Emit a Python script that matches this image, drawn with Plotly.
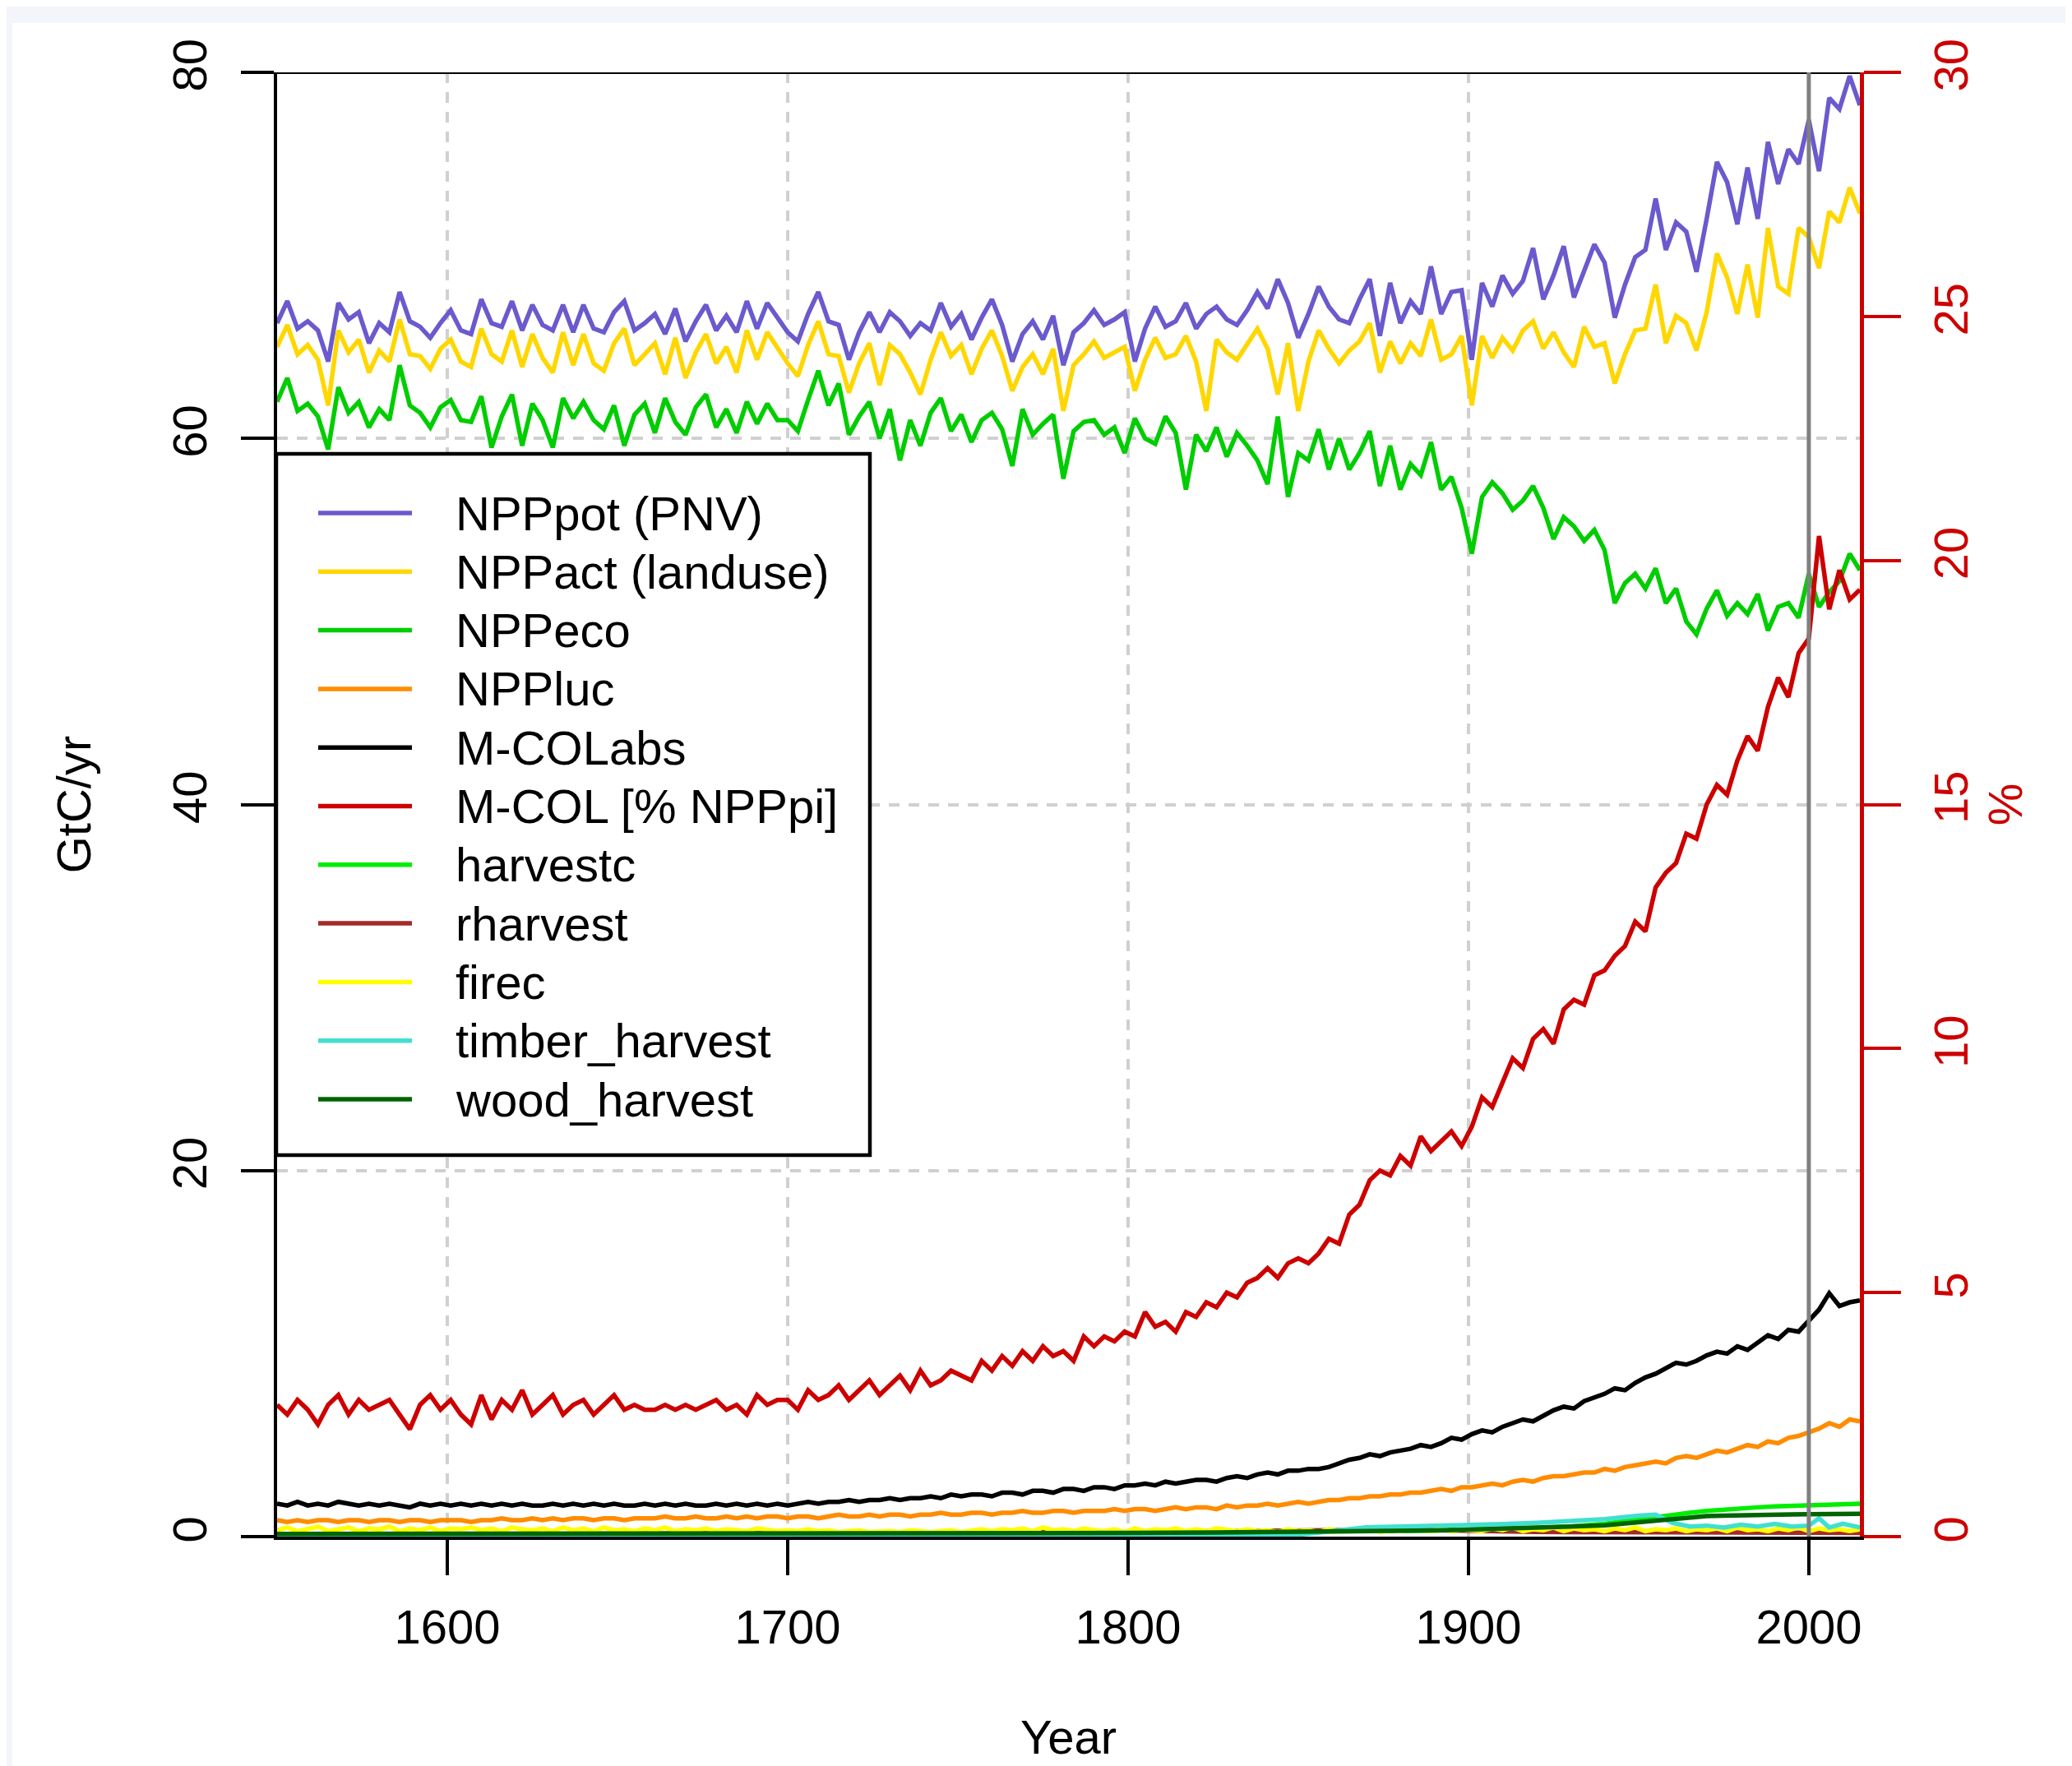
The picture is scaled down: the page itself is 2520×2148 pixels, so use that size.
import plotly.graph_objects as go

# ---------------- data ----------------
years = list(range(1550, 2016, 3))  # 1550, 1553, ... 2015

npp_pot = [
    66.3, 67.5, 66.0, 66.4, 65.9, 64.2, 67.4, 66.5, 66.9, 65.2,
    66.3, 65.8, 68.0, 66.4, 66.1, 65.5, 66.3, 67.0, 65.9, 65.7,
    67.6, 66.3, 66.1, 67.5, 65.9, 67.3, 66.2, 65.9, 67.3, 65.8,
    67.3, 66.0, 65.8, 66.9, 67.5, 65.9, 66.3, 66.8, 65.7, 67.1,
    65.3, 66.4, 67.3, 65.9, 66.7, 65.8, 67.5, 66.0, 67.4, 66.6,
    65.8, 65.3, 66.8, 68.0, 66.4, 66.2, 64.3, 65.8, 66.9, 65.8,
    66.9, 66.4, 65.6, 66.3, 65.9, 67.4, 66.1, 66.8, 65.4, 66.6,
    67.6, 66.2, 64.2, 65.7, 66.4, 65.4, 66.7, 64.0, 65.8, 66.3,
    67.0, 66.2, 66.5, 66.9, 64.2, 66.0, 67.2, 66.1, 66.4, 67.4,
    66.0, 66.8, 67.2, 66.5, 66.2, 67.0, 68.0, 67.1, 68.7, 67.4,
    65.5, 66.8, 68.3, 67.2, 66.5, 66.3, 67.6, 68.7, 65.6, 68.5,
    66.3, 67.5, 66.8, 69.4, 66.8, 68.0, 68.1, 64.3, 68.5, 67.2,
    68.9, 67.9, 68.6, 70.4, 67.6, 68.9, 70.5, 67.7, 69.2, 70.6,
    69.6, 66.6, 68.4, 69.9, 70.3, 73.1, 70.3, 71.8, 71.3, 69.1,
    72.0, 75.1, 74.0, 71.7, 74.8, 72.0, 76.2, 73.9, 75.8, 75.0,
    77.4, 74.6, 78.6, 78.0, 79.8, 78.2,
]
npp_act = [
    65.0, 66.2, 64.6, 65.1, 64.3, 61.8, 65.9, 64.7, 65.4, 63.6,
    64.8, 64.2, 66.5, 64.6, 64.5, 63.8, 64.9, 65.4, 64.2, 63.9,
    66.0, 64.6, 64.2, 65.9, 63.9, 65.7, 64.4, 63.6, 65.8, 64.0,
    65.7, 64.1, 63.7, 65.2, 66.0, 64.0, 64.6, 65.2, 63.5, 65.5,
    63.3, 64.7, 65.7, 64.1, 65.0, 63.6, 65.9, 64.3, 65.8, 64.9,
    64.1, 63.4, 65.1, 66.4, 64.6, 64.5, 62.5, 64.1, 65.2, 62.9,
    65.1, 64.6, 63.6, 62.4, 64.3, 65.8, 64.5, 65.1, 63.5, 64.9,
    65.9, 64.5, 62.6, 63.9, 64.6, 63.5, 64.9, 61.5, 64.0, 64.6,
    65.3, 64.4, 64.7, 65.0, 62.6, 64.3, 65.5, 64.4, 64.6, 65.6,
    64.2, 61.5, 65.4, 64.7, 64.3, 65.1, 66.0, 64.9, 62.4, 65.2,
    61.5, 64.2, 65.9, 64.9, 64.1, 64.8, 65.3, 66.3, 63.6, 65.3,
    64.1, 65.2, 64.5, 66.5, 64.3, 64.6, 65.6, 61.8, 65.6, 64.4,
    65.5, 64.8, 65.9, 66.4, 64.9, 65.8, 64.7, 63.9, 66.1, 65.0,
    65.2, 63.0, 64.6, 65.9, 66.0, 68.4, 65.2, 66.7, 66.3, 64.8,
    66.9, 70.1, 68.8, 66.8, 69.5, 66.6, 71.5, 68.3, 67.9, 71.5,
    71.0, 69.3, 72.4, 71.8, 73.7, 72.3,
]
npp_eco = [
    62.0, 63.3, 61.5, 61.9, 61.2, 59.4, 62.8, 61.4, 62.0, 60.6,
    61.6, 61.0, 64.0, 61.8, 61.4, 60.6, 61.7, 62.1, 61.0, 60.9,
    62.3, 59.5, 61.2, 62.4, 59.6, 61.9, 61.0, 59.5, 62.2, 61.1,
    62.0, 61.0, 60.5, 61.8, 59.6, 61.3, 61.9, 60.3, 62.2, 60.9,
    60.2, 61.7, 62.4, 60.6, 61.6, 60.3, 62.0, 60.8, 61.9, 61.0,
    61.0, 60.4, 62.1, 63.7, 61.8, 63.0, 60.2, 61.2, 62.0, 60.0,
    61.6, 58.8, 61.0, 59.6, 61.4, 62.2, 60.4, 61.3, 59.8, 61.0,
    61.4, 60.5, 58.5, 61.6, 60.2, 60.8, 61.3, 57.8, 60.4, 60.9,
    61.0, 60.2, 60.6, 59.2, 61.1, 60.0, 59.7, 61.2, 60.3, 57.2,
    60.2, 59.3, 60.6, 59.0, 60.3, 59.6, 58.8, 57.5, 61.2, 56.8,
    59.2, 58.8, 60.5, 58.3, 60.0, 58.3, 59.2, 60.4, 57.4, 59.6,
    57.2, 58.6, 58.0, 59.8, 57.2, 57.9, 56.2, 53.7, 56.8, 57.6,
    57.0, 56.1, 56.6, 57.4, 56.2, 54.5, 55.7, 55.2, 54.4, 55.0,
    53.9, 51.0, 52.1, 52.6, 51.8, 52.9, 51.0, 51.8, 50.0, 49.3,
    50.7, 51.7, 50.3, 51.0, 50.4, 51.5, 49.5, 50.8, 51.0, 50.2,
    52.6, 50.8, 51.6, 52.2, 53.7, 52.8,
]
npp_luc = [
    0.9, 0.8, 0.9, 0.8, 0.9, 0.9, 0.8, 0.9, 0.9, 0.8,
    0.9, 0.9, 0.8, 0.9, 0.9, 0.8, 0.9, 0.9, 0.9, 0.8,
    0.9, 0.9, 1.0, 0.9, 0.9, 1.0, 0.9, 1.0, 0.9, 1.0,
    1.0, 0.9, 1.0, 1.0, 0.9, 1.0, 1.0, 1.0, 1.1, 1.0,
    1.0, 1.1, 1.0, 1.0, 1.1, 1.0, 1.1, 1.0, 1.1, 1.1,
    1.0, 1.1, 1.1, 1.0, 1.1, 1.2, 1.1, 1.1, 1.2, 1.1,
    1.2, 1.2, 1.1, 1.2, 1.2, 1.3, 1.2, 1.2, 1.3, 1.3,
    1.2, 1.3, 1.3, 1.4, 1.3, 1.3, 1.4, 1.4, 1.3, 1.4,
    1.4, 1.4, 1.5, 1.4, 1.5, 1.5, 1.4, 1.5, 1.6, 1.5,
    1.6, 1.6, 1.5, 1.7, 1.6, 1.7, 1.7, 1.8, 1.7, 1.8,
    1.9, 1.8, 1.9, 2.0, 2.0, 2.1, 2.1, 2.2, 2.2, 2.3,
    2.3, 2.4, 2.4, 2.5, 2.6, 2.5, 2.7, 2.7, 2.8, 2.9,
    2.8, 3.0, 3.1, 3.0, 3.2, 3.3, 3.3, 3.4, 3.5, 3.5,
    3.7, 3.6, 3.8, 3.9, 4.0, 4.1, 4.0, 4.3, 4.4, 4.3,
    4.5, 4.7, 4.6, 4.8, 5.0, 4.9, 5.2, 5.1, 5.4, 5.5,
    5.7, 5.9, 6.2, 6.0, 6.4, 6.3,
]
mcol_abs = [
    1.8, 1.7, 1.9, 1.7, 1.8, 1.7, 1.9, 1.8, 1.7, 1.8,
    1.7, 1.8, 1.7, 1.6, 1.8, 1.7, 1.8, 1.7, 1.8, 1.7,
    1.8, 1.7, 1.8, 1.7, 1.8, 1.7, 1.7, 1.8, 1.7, 1.8,
    1.7, 1.8, 1.7, 1.8, 1.7, 1.7, 1.8, 1.7, 1.8, 1.7,
    1.8, 1.7, 1.7, 1.8, 1.7, 1.8, 1.7, 1.8, 1.7, 1.8,
    1.7, 1.8, 1.9, 1.8, 1.9, 1.9, 2.0, 1.9, 2.0, 2.0,
    2.1, 2.0, 2.1, 2.1, 2.2, 2.1, 2.3, 2.2, 2.3, 2.3,
    2.2, 2.4, 2.4, 2.3, 2.5, 2.5, 2.4, 2.6, 2.6, 2.5,
    2.7, 2.7, 2.6, 2.8, 2.8, 2.9, 2.8, 3.0, 2.9, 3.0,
    3.1, 3.1, 3.0, 3.2, 3.3, 3.2, 3.4, 3.5, 3.4, 3.6,
    3.6, 3.7, 3.7, 3.8, 4.0, 4.2, 4.3, 4.5, 4.4, 4.6,
    4.7, 4.8, 5.0, 4.9, 5.1, 5.4, 5.3, 5.6, 5.8, 5.7,
    6.0, 6.2, 6.4, 6.3, 6.6, 6.9, 7.1, 7.0, 7.4, 7.6,
    7.8, 8.1, 8.0, 8.4, 8.7, 8.9, 9.2, 9.5, 9.4, 9.6,
    9.9, 10.1, 10.0, 10.4, 10.2, 10.6, 11.0, 10.8, 11.3, 11.2,
    11.8, 12.4, 13.3, 12.6, 12.8, 12.9,
]
mcol_pct = [
    2.7, 2.5, 2.8, 2.6, 2.3, 2.7, 2.9, 2.5, 2.8, 2.6,
    2.7, 2.8, 2.5, 2.2, 2.7, 2.9, 2.6, 2.8, 2.5, 2.3,
    2.9, 2.4, 2.8, 2.6, 3.0, 2.5, 2.7, 2.9, 2.5, 2.7,
    2.8, 2.5, 2.7, 2.9, 2.6, 2.7, 2.6, 2.6, 2.7, 2.6,
    2.7, 2.6, 2.7, 2.8, 2.6, 2.7, 2.5, 2.9, 2.7, 2.8,
    2.8, 2.6, 3.0, 2.8, 2.9, 3.1, 2.8, 3.0, 3.2, 2.9,
    3.1, 3.3, 3.0, 3.4, 3.1, 3.2, 3.4, 3.3, 3.2, 3.6,
    3.4, 3.7, 3.5, 3.8, 3.6, 3.9, 3.7, 3.8, 3.6, 4.1,
    3.9, 4.1, 4.0, 4.2, 4.1, 4.6, 4.3, 4.4, 4.2, 4.6,
    4.5, 4.8, 4.7, 5.0, 4.9, 5.2, 5.3, 5.5, 5.3, 5.6,
    5.7, 5.6, 5.8, 6.1, 6.0, 6.6, 6.8, 7.3, 7.5, 7.4,
    7.8, 7.6, 8.2, 7.9, 8.1, 8.3, 8.0, 8.4, 9.0, 8.8,
    9.3, 9.8, 9.6, 10.2, 10.4, 10.1, 10.8, 11.0, 10.9, 11.5,
    11.6, 11.9, 12.1, 12.6, 12.4, 13.3, 13.6, 13.8, 14.4, 14.3,
    15.0, 15.4, 15.2, 15.9, 16.4, 16.1, 17.0, 17.6, 17.2, 18.1,
    18.4, 20.5, 19.0, 19.8, 19.2, 19.4,
]
firec = [
    0.35, 0.5, 0.3, 0.45, 0.55, 0.3, 0.4, 0.5, 0.3, 0.45,
    0.4, 0.55, 0.3, 0.45, 0.35, 0.5, 0.3, 0.45, 0.4, 0.5,
    0.35, 0.45, 0.3, 0.5, 0.4, 0.35, 0.45, 0.3, 0.5, 0.35,
    0.45, 0.3, 0.5, 0.35, 0.4, 0.3, 0.45, 0.35, 0.5, 0.3,
    0.4, 0.35, 0.45, 0.3, 0.4, 0.35, 0.3, 0.45, 0.35, 0.3,
    0.35, 0.3, 0.4, 0.3, 0.35, 0.25, 0.3, 0.35, 0.25, 0.3,
    0.3, 0.25, 0.35, 0.3, 0.25, 0.3, 0.35, 0.25, 0.3, 0.4,
    0.3, 0.4, 0.35, 0.45, 0.3, 0.5, 0.35, 0.4, 0.3, 0.45,
    0.35, 0.3, 0.4, 0.25, 0.45, 0.3, 0.4, 0.35, 0.45, 0.3,
    0.4, 0.3, 0.45, 0.35, 0.3, 0.4, 0.3, 0.35, 0.25, 0.4,
    0.3, 0.35, 0.25, 0.4, 0.3, 0.35, 0.3, 0.4, 0.25, 0.35,
    0.3, 0.4, 0.35, 0.3, 0.45, 0.3, 0.4, 0.35, 0.3, 0.45,
    0.35, 0.5, 0.3, 0.4, 0.35, 0.5, 0.3, 0.45, 0.35, 0.4,
    0.3, 0.45, 0.35, 0.5, 0.3, 0.4, 0.35, 0.45, 0.3, 0.4,
    0.35, 0.45, 0.3, 0.5, 0.35, 0.4, 0.3, 0.45, 0.35, 0.5,
    0.3, 0.45, 0.35, 0.4, 0.3, 0.4,
]

years_c = [1550, 1600, 1650, 1700, 1750, 1800, 1825, 1850, 1860, 1870,
           1880, 1890, 1900, 1910, 1920, 1930, 1940, 1950, 1955, 1960,
           1965, 1970, 1975, 1980, 1985, 1990, 1995, 2000, 2003, 2006,
           2010, 2015]
harvestc = [0.12, 0.12, 0.13, 0.14, 0.16, 0.19, 0.21, 0.24, 0.26, 0.28,
            0.31, 0.34, 0.37, 0.41, 0.47, 0.55, 0.70, 0.95, 1.08, 1.20,
            1.30, 1.40, 1.48, 1.55, 1.60, 1.65, 1.68, 1.72, 1.74, 1.75,
            1.77, 1.80]
rharvest = [0.10, 0.12, 0.14, 0.16, 0.20, 0.25, 0.30, 0.35, 0.38, 0.40,
            0.38, 0.35, 0.30, 0.28, 0.26, 0.25, 0.24, 0.22, 0.22, 0.21,
            0.21, 0.20, 0.20, 0.20, 0.20, 0.20, 0.20, 0.20, 0.20, 0.20,
            0.20, 0.20]
timber_harvest = [0.0, 0.0, 0.0, 0.0, 0.0, 0.02, 0.05, 0.10, 0.30, 0.50,
                  0.55, 0.58, 0.60, 0.68, 0.75, 0.85, 0.95, 1.15, 1.20, 0.75,
                  0.55, 0.60, 0.50, 0.65, 0.55, 0.70, 0.55, 0.60, 1.00, 0.50,
                  0.70, 0.50]
wood_harvest = [0.15, 0.15, 0.15, 0.16, 0.18, 0.20, 0.22, 0.25, 0.27, 0.29,
                0.31, 0.34, 0.38, 0.42, 0.48, 0.55, 0.62, 0.78, 0.90, 1.00,
                1.06, 1.12, 1.15, 1.18, 1.19, 1.20, 1.21, 1.22, 1.22, 1.23,
                1.25, 1.25]

x_ticks = [1600, 1700, 1800, 1900, 2000]
y_ticks = [0, 20, 40, 60, 80]
y2_ticks = [0, 5, 10, 15, 20, 25, 30]

# ---------------- styling ----------------
FONT = "Liberation Sans, Arial, Helvetica, sans-serif"
FS = 58
LW = 5.5
RED = "#CD0000"

series = [
    ("NPPpot (PNV)", years, npp_pot, "#6A5ACD", "y"),
    ("NPPact (landuse)", years, npp_act, "#FFD700", "y"),
    ("NPPeco", years, npp_eco, "#00CD00", "y"),
    ("NPPluc", years, npp_luc, "#FF8C00", "y"),
    ("M-COLabs", years, mcol_abs, "#000000", "y"),
    ("M-COL [% NPPpi]", years, mcol_pct, RED, "y2"),
    ("harvestc", years_c, harvestc, "#00EE00", "y"),
    ("rharvest", years_c, rharvest, "#A52A2A", "y"),
    ("firec", years, firec, "#FFFF00", "y"),
    ("timber_harvest", years_c, timber_harvest, "#40E0D0", "y"),
    ("wood_harvest", years_c, wood_harvest, "#006400", "y"),
]

fig = go.Figure()
for name, xs, ys, col, ax in series:
    fig.add_trace(go.Scatter(x=xs, y=ys, name=name, mode="lines", yaxis=ax,
                             showlegend=False, line=dict(color=col, width=LW)))

# page body keeps an 8px margin at top/left
W, H = 2512, 2140
ML, MT = 329, 80
PW, PH = 1925, 1781
MR, MB = W - ML - PW, H - MT - PH
OFF = 8

def px_x(p):  # page pixel -> paper x
    return (p - OFF - ML) / PW

def px_y(p):  # page pixel -> paper y
    return (MT + PH - (p - OFF)) / PH

grid = dict(showgrid=True, gridcolor="#d0d0d0", gridwidth=3.5, griddash="13px,11px")

fig.update_layout(
    width=W, height=H,
    margin=dict(l=ML, r=MR, t=MT, b=MB, pad=0, autoexpand=False),
    paper_bgcolor="#f3f5fa",
    plot_bgcolor="white",
    font=dict(family=FONT, size=FS, color="black"),
    showlegend=False,
    xaxis=dict(range=[1550, 2015], tickvals=x_ticks, ticks="outside",
               ticklen=43, tickwidth=4, tickcolor="black", automargin=False,
               showline=True, linecolor="black", linewidth=4,
               zeroline=False, ticklabelstandoff=13,
               title=dict(text="Year", standoff=84, font=dict(size=FS)), **grid),
    yaxis=dict(range=[0, 80], tickvals=y_ticks, ticks="outside",
               ticklen=40, tickwidth=4, tickcolor="black", tickangle=-90,
               showline=True, linecolor="black", linewidth=4, automargin=False,
               zeroline=False, ticklabelstandoff=19,
               title=dict(text="GtC/yr", standoff=69, font=dict(size=FS)), **grid),
    yaxis2=dict(range=[0, 30], tickvals=y2_ticks, overlaying="y", side="right",
                ticks="outside", ticklen=45, tickwidth=4, tickcolor=RED,
                tickangle=-90, showline=True, linecolor=RED, linewidth=5,
                showgrid=False, zeroline=False, ticklabelstandoff=11,
                automargin=False, tickfont=dict(color=RED),
                title=dict(text="%", standoff=16, font=dict(color=RED, size=FS))),
)

# outer white panel (background frame)
fig.add_shape(type="rect", xref="paper", yref="paper", layer="below",
              x0=px_x(15), x1=px_x(2530), y0=px_y(2160), y1=px_y(28),
              fillcolor="white", line=dict(width=0))
# top border line at 80
fig.add_shape(type="line", xref="x", yref="y", x0=1550, x1=2015, y0=80, y1=80,
              line=dict(color="black", width=4), layer="above")
# vertical reference line at year 2000
fig.add_shape(type="line", xref="x", yref="y", x0=2000, x1=2000, y0=0, y1=80,
              line=dict(color="#808080", width=5), layer="above")

# ---- legend box (drawn like the R legend) ----
LEG_L, LEG_R, LEG_T, LEG_B = 336, 1058, 552, 1405
ROW0, ROW_STEP = 624, 71.3
SAMPLE_X0, SAMPLE_X1, TEXT_X = 387, 501, 552
fig.add_shape(type="rect", xref="paper", yref="paper", layer="above",
              x0=px_x(LEG_L), x1=px_x(LEG_R), y0=px_y(LEG_B), y1=px_y(LEG_T),
              fillcolor="white", line=dict(color="black", width=4.5))
for i, (name, _, _, col, _) in enumerate(series):
    yy = px_y(ROW0 + ROW_STEP * i)
    fig.add_shape(type="line", xref="paper", yref="paper", layer="above",
                  x0=px_x(SAMPLE_X0), x1=px_x(SAMPLE_X1), y0=yy, y1=yy,
                  line=dict(color=col, width=LW))
    fig.add_annotation(xref="paper", yref="paper", x=px_x(TEXT_X), y=yy,
                       text=name, showarrow=False, xanchor="left",
                       yanchor="middle", font=dict(size=FS, color="black"))

fig.write_html("out.html")
